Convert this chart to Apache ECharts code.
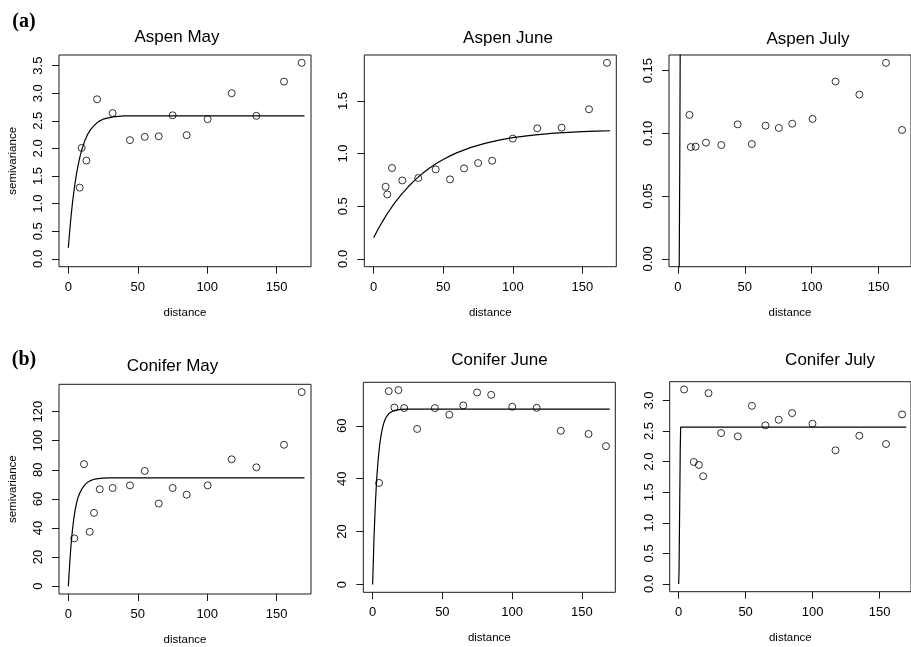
<!DOCTYPE html>
<html>
<head>
<meta charset="utf-8">
<script src="https://cdn.jsdelivr.net/npm/echarts@6/dist/echarts.min.js"></script>
<style>
html,body{margin:0;padding:0;background:#fff;}
#chart{width:911px;height:647px;}
</style>
</head>
<body>
<div id="chart"></div>
<script>
// ---------- data ----------
const panelTitles = ['Aspen May', 'Aspen June', 'Aspen July', 'Conifer May', 'Conifer June', 'Conifer July'];
const xTicks = [0, 50, 100, 150];

const aspenMayDist = [8.2, 9.6, 13.0, 20.7, 31.9, 44.4, 55.0, 65.1, 75.1, 85.2, 100.3, 117.6, 135.4, 155.3, 168.0];
const aspenMaySemi = [1.29, 2.01, 1.78, 2.89, 2.64, 2.15, 2.21, 2.22, 2.60, 2.24, 2.53, 3.00, 2.59, 3.21, 3.55];
const aspenMayCurveX = [0, 1, 2, 3, 4, 5, 6, 7, 8, 9, 10, 12, 14, 16, 18, 20, 22, 25, 28, 32, 36, 40, 170];
const aspenMayCurveY = [0.2, 0.51, 0.78, 1.02, 1.22, 1.40, 1.56, 1.69, 1.81, 1.91, 2.00, 2.15, 2.26, 2.34, 2.40, 2.45, 2.49, 2.53, 2.55, 2.57, 2.58, 2.59, 2.59];
const aspenMayTicks = [0, 0.5, 1.0, 1.5, 2.0, 2.5, 3.0, 3.5];

const aspenJuneDist = [8.6, 9.8, 13.2, 20.6, 32.1, 44.6, 54.9, 65.0, 75.1, 85.2, 100.0, 117.6, 135.1, 154.8, 167.7];
const aspenJuneSemi = [0.685, 0.612, 0.863, 0.745, 0.768, 0.850, 0.755, 0.859, 0.910, 0.932, 1.142, 1.240, 1.246, 1.421, 1.862];
const aspenJuneCurveX = [0, 2.5, 5, 7.5, 10, 15, 20, 25, 30, 35, 40, 45, 50, 55, 60, 70, 80, 90, 100, 110, 120, 130, 140, 150, 160, 170];
const aspenJuneCurveY = [0.2, 0.264, 0.324, 0.380, 0.433, 0.529, 0.613, 0.687, 0.753, 0.810, 0.860, 0.905, 0.944, 0.978, 1.009, 1.059, 1.097, 1.128, 1.151, 1.169, 1.183, 1.194, 1.202, 1.208, 1.213, 1.217];
const aspenJuneTicks = [0, 0.5, 1.0, 1.5];

const aspenJulyDist = [8.6, 9.6, 13.2, 20.9, 32.4, 44.6, 55.2, 65.5, 75.4, 85.4, 100.6, 117.8, 135.6, 155.5, 167.5];
const aspenJulySemi = [0.1147, 0.0891, 0.0894, 0.0926, 0.0907, 0.1072, 0.0915, 0.1061, 0.1043, 0.1077, 0.1115, 0.1413, 0.1309, 0.1562, 0.1027];
const aspenJulyCurveX = [0.9, 1.3, 1.8];
const aspenJulyCurveY = [-0.01, 0.065, 0.2];
const aspenJulyTicks = [0, 0.05, 0.10, 0.15];

const coniferMayDist = [4.3, 11.3, 15.4, 18.5, 22.6, 31.9, 44.4, 55.0, 65.1, 75.1, 85.2, 100.3, 117.6, 135.4, 155.3, 168.0];
const coniferMaySemi = [32.9, 83.9, 37.4, 50.4, 66.6, 67.5, 69.3, 79.2, 56.8, 67.5, 62.9, 69.3, 87.2, 81.7, 97.2, 133.4];
const coniferMayCurveX = [0, 1, 2, 3, 4, 5, 6, 7, 8, 10, 12, 14, 16, 18, 20, 25, 30, 170];
const coniferMayCurveY = [0, 16, 29, 39, 47, 53, 57.5, 61, 63.5, 67.3, 69.8, 71.5, 72.6, 73.3, 73.8, 74.3, 74.5, 74.5];
const coniferMayTicks = [0, 20, 40, 60, 80, 100, 120];

const coniferJuneDist = [4.6, 11.5, 15.6, 18.5, 22.6, 31.9, 44.6, 55.0, 65.0, 74.9, 85.0, 100.1, 117.6, 134.9, 154.8, 167.3];
const coniferJuneSemi = [38.4, 73.1, 66.9, 73.5, 66.7, 58.8, 66.7, 64.2, 67.7, 72.6, 71.7, 67.2, 66.8, 58.1, 56.9, 52.3];
const coniferJuneCurveX = [0, 1, 2, 3, 4, 5, 6, 7, 8, 9, 10, 12, 15, 20, 25, 170];
const coniferJuneCurveY = [0, 17.9, 31.0, 40.6, 47.5, 52.6, 56.3, 59.0, 61.0, 62.5, 63.5, 64.8, 65.7, 66.2, 66.3, 66.3];
const coniferJuneTicks = [0, 20, 40, 60];

const coniferJulyDist = [4.1, 11.3, 15.1, 18.3, 22.3, 31.7, 44.2, 54.7, 64.8, 74.7, 84.7, 99.9, 117.1, 134.9, 154.8, 166.8];
const coniferJulySemi = [3.18, 1.995, 1.946, 1.761, 3.12, 2.467, 2.413, 2.913, 2.593, 2.685, 2.794, 2.620, 2.185, 2.424, 2.288, 2.772];
const coniferJulyCurveX = [0, 0.3, 1.2, 1.5, 170];
const coniferJulyCurveY = [0, 0.2, 2.2, 2.565, 2.565];
const coniferJulyTicks = [0, 0.5, 1.0, 1.5, 2.0, 2.5, 3.0];

// ---------- layout ----------
const FONT = "'Liberation Sans', Arial, Helvetica, sans-serif";
const panels = [
  {dist: aspenMayDist, semi: aspenMaySemi, cx: aspenMayCurveX, cy: aspenMayCurveY, ticks: aspenMayTicks, dec: 1,
   grid: {left: 59, top: 55, width: 252, height: 211.7}, title: [177, 37], ylab: true},
  {dist: aspenJuneDist, semi: aspenJuneSemi, cx: aspenJuneCurveX, cy: aspenJuneCurveY, ticks: aspenJuneTicks, dec: 1,
   grid: {left: 364.3, top: 55, width: 252, height: 211.7}, title: [508, 38.5], ylab: false},
  {dist: aspenJulyDist, semi: aspenJulySemi, cx: aspenJulyCurveX, cy: aspenJulyCurveY, ticks: aspenJulyTicks, dec: 2,
   grid: {left: 669, top: 55, width: 252, height: 211.7}, title: [808, 39], ylab: false},
  {dist: coniferMayDist, semi: coniferMaySemi, cx: coniferMayCurveX, cy: coniferMayCurveY, ticks: coniferMayTicks, dec: 0,
   grid: {left: 59, top: 384.3, width: 252, height: 210.7}, title: [172.5, 366.5], ylab: true},
  {dist: coniferJuneDist, semi: coniferJuneSemi, cx: coniferJuneCurveX, cy: coniferJuneCurveY, ticks: coniferJuneTicks, dec: 0,
   grid: {left: 363.3, top: 382.3, width: 252, height: 210}, title: [499.5, 360], ylab: false},
  {dist: coniferJulyDist, semi: coniferJulySemi, cx: coniferJulyCurveX, cy: coniferJulyCurveY, ticks: coniferJulyTicks, dec: 1,
   grid: {left: 669.7, top: 381.7, width: 252, height: 210}, title: [830, 360], ylab: false}
];

const grids = [], xAxes = [], yAxes = [], series = [], graphics = [];
panels.forEach((p, i) => {
  grids.push(Object.assign({show: true, borderColor: '#1a1a1a', borderWidth: 1, backgroundColor: 'transparent'}, p.grid));
  const xmax = Math.max(...p.dist);
  xAxes.push({
    type: 'value', gridIndex: i, min: -0.04 * xmax, max: xmax * 1.04,
    axisLine: {show: false, onZero: false},
    splitLine: {show: false},
    axisTick: {show: true, inside: false, length: 7, lineStyle: {color: '#1a1a1a', width: 1}, customValues: xTicks},
    axisLabel: {show: true, margin: 14, fontSize: 13, fontFamily: FONT, color: '#000', customValues: xTicks,
                formatter: v => String(Math.round(v))},
    name: 'distance', nameLocation: 'middle', nameGap: 40,
    nameTextStyle: {fontSize: 11.5, fontFamily: FONT, color: '#000'}
  });
  const ymax = Math.max(...p.semi);
  yAxes.push({
    type: 'value', gridIndex: i, min: -0.04 * ymax, max: ymax * 1.04,
    axisLine: {show: false, onZero: false},
    splitLine: {show: false},
    axisTick: {show: true, inside: false, length: 7, lineStyle: {color: '#1a1a1a', width: 1}, customValues: p.ticks},
    axisLabel: {show: true, rotate: 90, margin: 14, fontSize: 13, fontFamily: FONT, color: '#000', customValues: p.ticks,
                formatter: v => Number(v).toFixed(p.dec)},
    name: p.ylab ? 'semivariance' : '', nameLocation: 'middle', nameGap: 40,
    nameTextStyle: {fontSize: 11.5, fontFamily: FONT, color: '#000'}
  });
  series.push({
    type: 'line', xAxisIndex: i, yAxisIndex: i,
    data: p.cx.map((x, k) => [x, p.cy[k]]),
    showSymbol: false, symbol: 'none', clip: true, smooth: false,
    lineStyle: {color: '#000', width: 1.2}, silent: true, z: 2
  });
  series.push({
    type: 'scatter', xAxisIndex: i, yAxisIndex: i,
    data: p.dist.map((x, k) => [x, p.semi[k]]),
    symbol: 'circle', symbolSize: 7, clip: false,
    itemStyle: {color: 'rgba(0,0,0,0)', borderColor: '#000', borderWidth: 1}, z: 3
  });
  graphics.push({
    type: 'text', x: p.title[0], y: p.title[1],
    style: {text: panelTitles[i], textAlign: 'center', textVerticalAlign: 'middle',
            fontSize: 17, fontFamily: FONT, fill: '#000'}
  });
});
graphics.push({type: 'text', x: 24, y: 22, style: {text: '(a)', textAlign: 'center', textVerticalAlign: 'middle',
  fontSize: 20, fontWeight: 'bold', fontFamily: "'Liberation Serif', 'Times New Roman', serif", fill: '#000'}});
graphics.push({type: 'text', x: 24, y: 360, style: {text: '(b)', textAlign: 'center', textVerticalAlign: 'middle',
  fontSize: 20, fontWeight: 'bold', fontFamily: "'Liberation Serif', 'Times New Roman', serif", fill: '#000'}});

const chart = echarts.init(document.getElementById('chart'), null, {renderer: 'canvas'});
chart.setOption({
  animation: false,
  backgroundColor: '#fff',
  grid: grids, xAxis: xAxes, yAxis: yAxes, series: series, graphic: graphics
});
</script>
</body>
</html>
